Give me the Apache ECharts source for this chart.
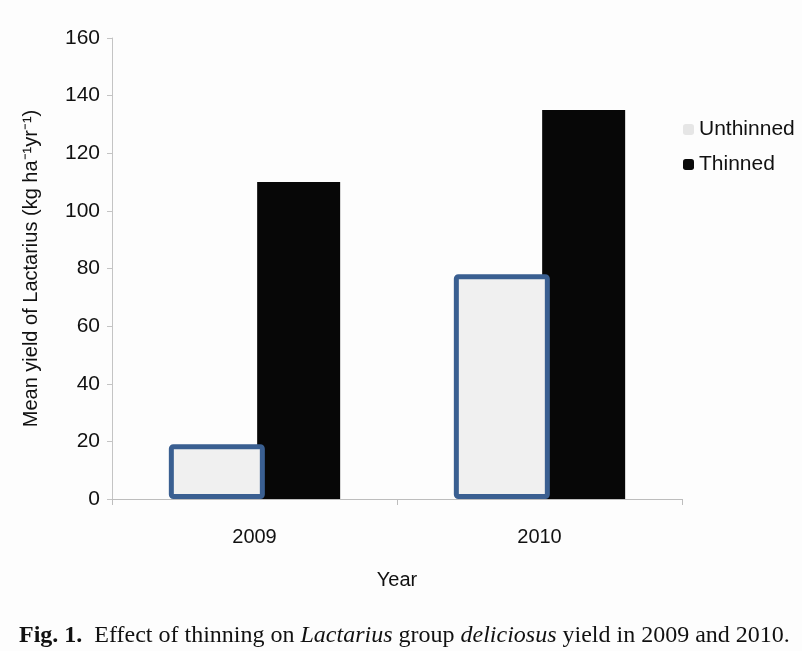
<!DOCTYPE html>
<html>
<head>
<meta charset="utf-8">
<script src="https://cdn.jsdelivr.net/npm/echarts@6/dist/echarts.min.js"></script>
<style>
html,body{margin:0;padding:0;background:#fdfdfd;}
#c{width:802px;height:651px;}
</style>
</head>
<body>
<div id="c"></div>
<script>
var categories = ['2009', '2010'];
var unthinned = [19, 78];
var thinned = [110, 135];
var yTicks = [0, 20, 40, 60, 80, 100, 120, 140, 160];

var chart = echarts.init(document.getElementById('c'), null, {renderer: 'canvas'});
var font = 'Liberation Sans, Arial, sans-serif';
var serif = 'Liberation Serif, DejaVu Serif, serif';
chart.setOption({
  backgroundColor: '#fdfdfd',
  animation: false,
  title: {
    text: '{b|Fig. 1.}{n|  Effect of thinning on }{i|Lactarius}{n| group }{i|deliciosus}{n| yield in 2009 and 2010.}',
    left: 14, top: 619,
    textStyle: {
      rich: {
        b: {fontFamily: serif, fontWeight: 'bold', fontSize: 24, color: '#111'},
        n: {fontFamily: serif, fontWeight: 'normal', fontSize: 24, color: '#111'},
        i: {fontFamily: serif, fontWeight: 'normal', fontStyle: 'italic', fontSize: 24, color: '#111'}
      }
    }
  },
  legend: {
    orient: 'vertical',
    left: 678, top: 114,
    itemWidth: 11, itemHeight: 11, itemGap: 14,
    textStyle: {fontFamily: font, fontSize: 21, color: '#111'},
    data: [
      {name: 'Unthinned', itemStyle: {color: '#e6e6e6', borderWidth: 0}},
      {name: 'Thinned', itemStyle: {color: '#0a0a0a', borderWidth: 0}}
    ]
  },
  grid: {left: 112, right: 120, top: 38, bottom: 152},
  xAxis: {
    type: 'category',
    data: categories,
    name: 'Year',
    nameLocation: 'middle',
    nameGap: 71,
    nameTextStyle: {fontFamily: font, fontSize: 20, color: '#111'},
    axisLine: {lineStyle: {color: '#bdbdbd', width: 1}},
    axisTick: {show: true, length: 6, lineStyle: {color: '#bdbdbd'}},
    axisLabel: {fontFamily: font, fontSize: 20, color: '#111', margin: 28}
  },
  yAxis: {
    type: 'value',
    min: 0, max: 160, interval: 20,
    name: 'Mean yield of Lactarius (kg ha\u207B\u00B9yr\u207B\u00B9)',
    nameLocation: 'middle',
    nameGap: 71,
    nameRotate: 90,
    nameTextStyle: {fontFamily: font, fontSize: 20, color: '#111'},
    axisLine: {show: true, lineStyle: {color: '#c4c4c4', width: 1}},
    axisTick: {show: true, length: 5, lineStyle: {color: '#c4c4c4'}},
    splitLine: {show: false},
    axisLabel: {fontFamily: font, fontSize: 21, color: '#111', margin: 12,
      formatter: function (v) { return yTicks.indexOf(v) >= 0 ? String(v) : ''; }}
  },
  series: [
    {
      name: 'Unthinned', type: 'bar', data: unthinned, z: 5,
      barWidth: 96, barGap: '-8%',
      itemStyle: {color: '#f0f0f0', borderColor: '#3a5f91', borderWidth: 5, borderRadius: 2}
    },
    {
      name: 'Thinned', type: 'bar', data: thinned, z: 2,
      barWidth: 83,
      itemStyle: {color: '#070707'}
    }
  ]
});
</script>
</body>
</html>
